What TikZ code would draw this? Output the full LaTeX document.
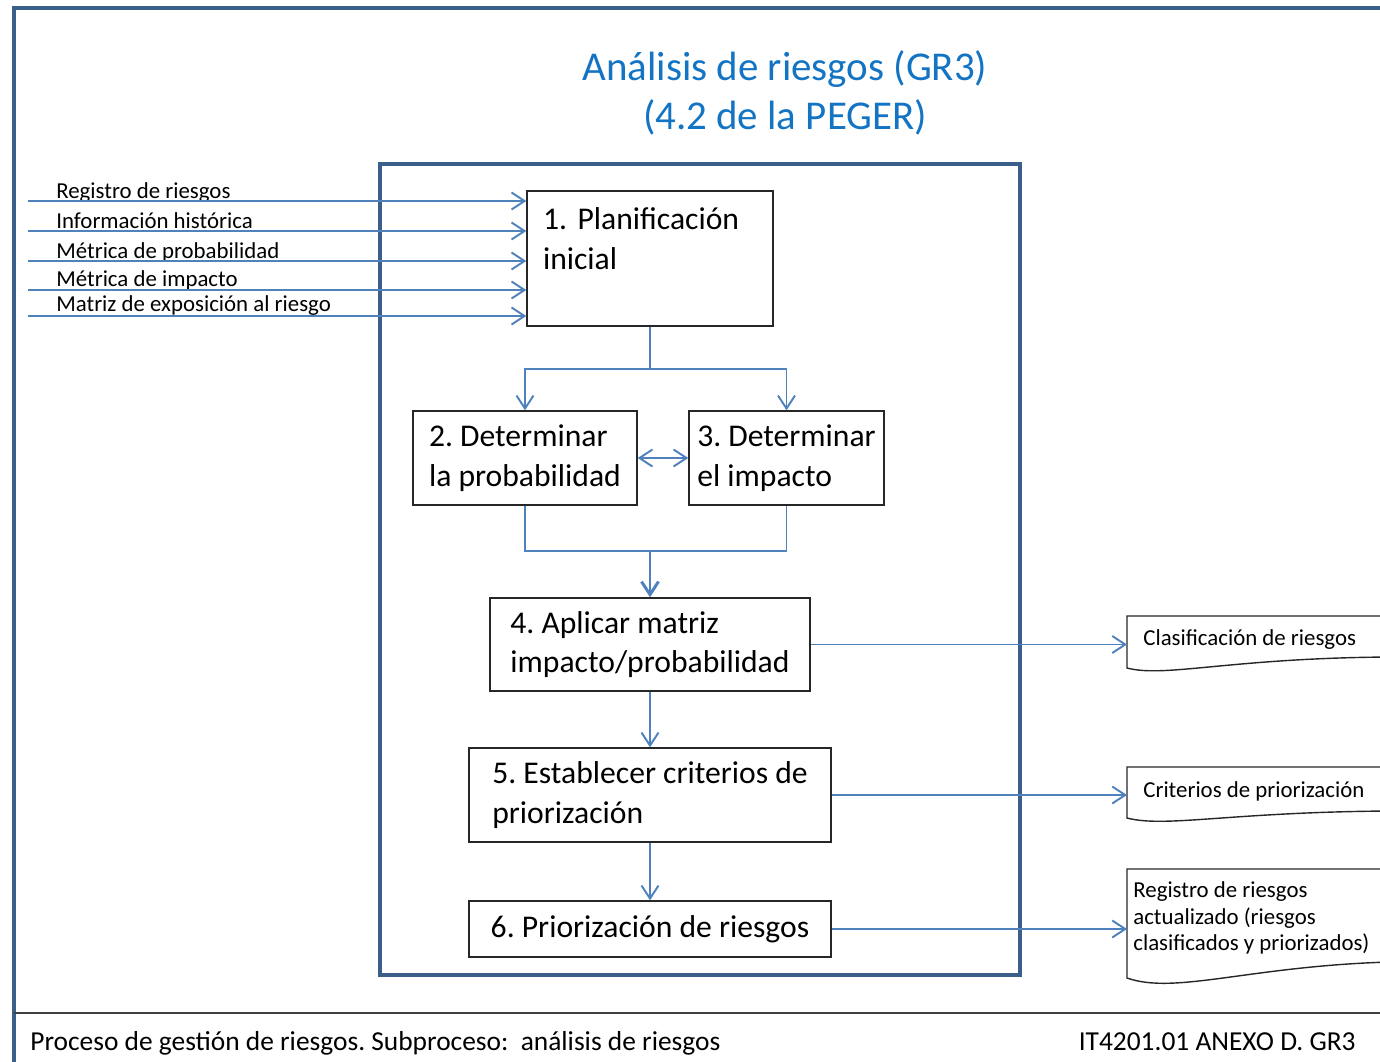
\documentclass[tikz,border=0pt]{standalone}
\usepackage{fontspec}
\setmainfont{Carlito}
\frenchspacing
\usetikzlibrary{arrows.meta}
\definecolor{framblue}{RGB}{58,95,139}
\definecolor{flowblue}{RGB}{79,129,189}
\definecolor{titleblue}{RGB}{20,116,196}
\tikzset{
  procbox/.style={draw=black!85, line width=0.8pt, fill=white, align=left, inner xsep=0.1cm, inner ysep=0pt, font=\fontsize{18}{22.7}\selectfont},
  flow/.style={draw=flowblue, line width=1.1pt, -{Straight Barb[length=2.6mm,width=3.4mm]}},
  link/.style={draw=flowblue, line width=1.1pt},
  inlabel/.style={inner sep=0pt, anchor=base west, font=\fontsize{13}{15}\selectfont},
  doctext/.style={align=left, inner sep=0pt, anchor=west, font=\fontsize{13}{15.3}\selectfont},
  docshape/.style={draw=black!85, line width=0.8pt},
  footer/.style={inner sep=0pt, font=\fontsize{15.6}{17}\selectfont},
}
\begin{document}
\begin{tikzpicture}[x=0.02cm,y=-0.02cm]
\useasboundingbox (0,0) rectangle (1380,1062);
\clip (0,0) rectangle (1380,1062);
% frames
\draw[framblue, line width=2.3pt] (14,1070) -- (14,8) -- (1390,8);
\draw[black!75, line width=0.9pt] (14,1013) -- (1390,1013);
\draw[framblue, line width=2.3pt] (380,164) rectangle (1020,975);
% title
\node[font=\fontsize{23.3}{27.8}\selectfont, text=titleblue, align=center] (title) at (785,93) {Análisis de riesgos (GR3)\\(4.2 de la PEGER)};
% steps
\node[procbox, minimum width=4.92cm, minimum height=2.7cm, text width=4.28cm, inner xsep=0.32cm] (p1) at (650,258.5) {1. Planificación\\inicial\\\mbox{}};
\node[procbox, minimum width=4.48cm, minimum height=1.88cm] (p2) at (525,458) {2. Determinar\\la probabilidad};
\node[procbox, minimum width=3.9cm, minimum height=1.88cm] (p3) at (786.5,458) {3. Determinar\\el impacto};
\node[procbox, minimum width=6.4cm, minimum height=1.86cm] (p4) at (650,644.5) {4. Aplicar matriz\\impacto/probabilidad};
\node[procbox, minimum width=7.24cm, minimum height=1.88cm] (p5) at (650,795) {5. Establecer criterios de\\priorización};
\node[procbox, minimum width=7.24cm, minimum height=1.12cm] (p6) at (650,929) {6. Priorización de riesgos};
% flow between steps
\coordinate (split) at (650,369);
\coordinate (merge) at (650,551);
\draw[link] (p1.south) -- (split);
\draw[flow] (split) -| (p2.north);
\draw[flow] (split) -| (p3.north);
\draw[flow, {Straight Barb[length=2.6mm,width=3.4mm]}-{Straight Barb[length=2.6mm,width=3.4mm]}] (p2.east) -- (p3.west);
\draw[link] (p2.south) |- (merge) -| (p3.south);
\draw[flow, line width=1.7pt] (merge) -- (p4.north);
\draw[flow] (p4.south) -- (p5.north);
\draw[flow] (p5.south) -- (p6.north);
% inputs
\foreach \ly/\lb/\lt [count=\i] in {201/198/Registro de riesgos, 231/228/Información histórica, 261/258/Métrica de probabilidad, 290/286/Métrica de impacto, 316/311/Matriz de exposición al riesgo}{
  \node[inlabel] (in\i) at (56,\lb) {\lt};
  \coordinate (src\i) at (28,\ly);
  \draw[flow] (src\i) -- (src\i -| p1.west);
}
% outputs
\draw[docshape] (1390,616) -- (1127,616) -- (1127,668) .. controls (1165,678) and (1230,658) .. (1390,657);
\draw[docshape] (1390,767) -- (1127,767) -- (1127,818) .. controls (1165,828) and (1230,812) .. (1390,811);
\draw[docshape] (1390,869) -- (1127,869) -- (1127,978) .. controls (1175,995) and (1250,966) .. (1390,962);
\node[doctext] (d1) at (1143,640) {Clasificación de riesgos};
\node[doctext] (d2) at (1143,791) {Criterios de priorización};
\node[doctext] (d3) at (1133,918) {Registro de riesgos\\actualizado (riesgos\\clasificados y priorizados)};
\coordinate (d1in) at (1127,644);
\coordinate (d2in) at (1127,795);
\coordinate (d3in) at (1127,929);
\draw[flow] (p4.east) -- (p4.east -| d1in);
\draw[flow] (p5.east) -- (p5.east -| d2in);
\draw[flow] (p6.east) -- (p6.east -| d3in);
% footer
\node[footer, anchor=base west] (foot) at (30,1050) {Proceso de gestión de riesgos. Subproceso:\ \ análisis de riesgos};
\node[footer, anchor=base east] (code) at (1356,1050) {IT4201.01 ANEXO D. GR3};
\end{tikzpicture}
\end{document}
